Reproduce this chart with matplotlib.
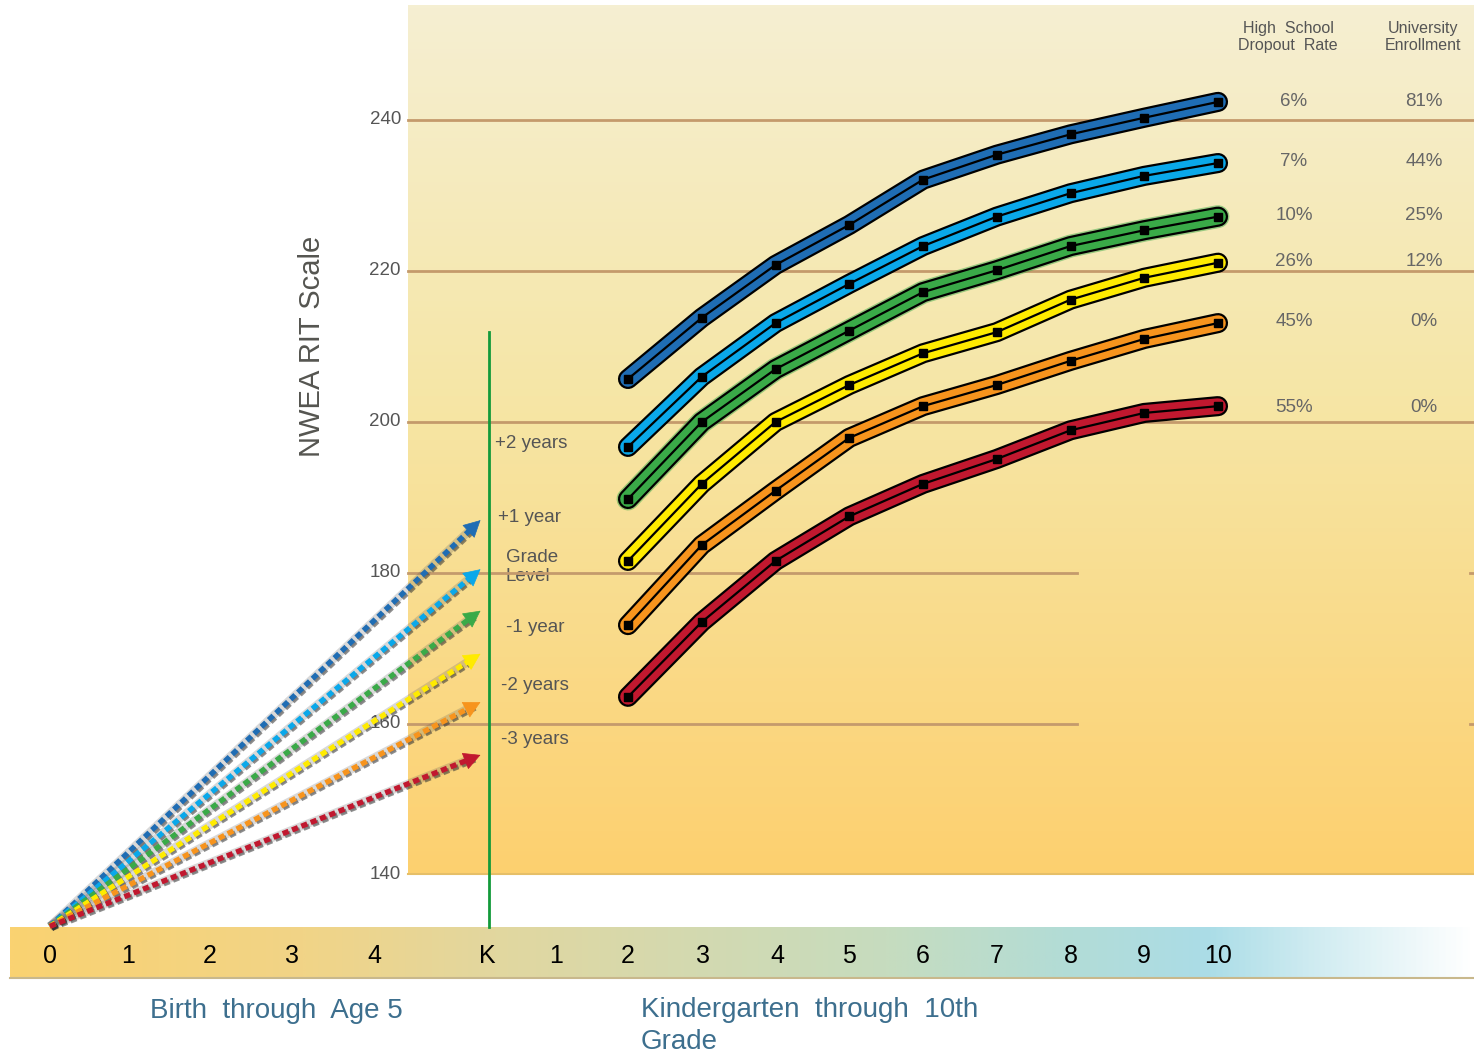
import numpy as np
import matplotlib
matplotlib.use("Agg")
import matplotlib.pyplot as plt
import matplotlib.patheffects as pe
from matplotlib.colors import LinearSegmentedColormap

plt.rcParams['font.family'] = ['Liberation Sans', 'DejaVu Sans']

# ---------------- data ----------------
grades = [2, 3, 4, 5, 6, 7, 8, 9, 10]
series_names = ["+2 years", "+1 year", "Grade Level", "-1 year", "-2 years", "-3 years"]
dark_blue = [205.7, 213.8, 220.8, 226.1, 232.1, 235.4, 238.1, 240.3, 242.4]
light_blue = [196.7, 206.0, 213.1, 218.3, 223.3, 227.2, 230.3, 232.6, 234.3]
green = [189.8, 200.0, 207.0, 212.1, 217.2, 220.1, 223.3, 225.4, 227.2]
yellow = [181.6, 191.8, 200.0, 204.9, 209.1, 211.9, 216.2, 219.1, 221.1]
orange = [173.1, 183.7, 190.9, 197.9, 202.1, 204.9, 208.1, 211.0, 213.1]
red = [163.6, 173.5, 181.6, 187.5, 191.8, 195.1, 198.9, 201.2, 202.1]
series_values = [dark_blue, light_blue, green, yellow, orange, red]
series_colors = ["#1f6db4", "#0aa8ea", "#3aaa48", "#ffeb00", "#f7941d", "#c1182f"]

# early-childhood arrows: start (age 0) and end (kindergarten) RIT values
arrow_start_x = -5.84
arrow_start_y = 133.2
arrow_end_x = 0.0
arrow_end_y = [187.0, 180.5, 175.0, 169.3, 162.9, 155.9]

dropout_rate = ["6%", "7%", "10%", "26%", "45%", "55%"]
university_enrollment = ["81%", "44%", "25%", "12%", "0%", "0%"]

yticks = [140, 160, 180, 200, 220, 240]
year_labels = ["+2 years", "+1 year", "Grade\nLevel", "-1 year", "-2 years", "-3 years"]
bottom_labels = ["0", "1", "2", "3", "4", "K", "1", "2", "3", "4", "5", "6", "7", "8", "9", "10"]

# ---------------- figure ----------------
W, H = 1474, 1055
fig = plt.figure(figsize=(W / 100, H / 100), dpi=100)

# decoration axes in pixel coordinates
deco = fig.add_axes([0, 0, 1, 1])
deco.set_xlim(0, W)
deco.set_ylim(H, 0)
deco.axis("off")

# background gradient panel
bg_cmap = LinearSegmentedColormap.from_list(
    "bg", [(0.0, "#f5efd2"), (0.45, "#f6e6a6"), (1.0, "#fdd06f")])
grad = np.linspace(0, 1, 256).reshape(-1, 1)
deco.imshow(grad, cmap=bg_cmap, aspect="auto", extent=[408, W, 875, 5], zorder=0)
deco.plot([408, W], [874, 874], color="#e6bf68", lw=1.5, zorder=1)

# bottom bar gradient
bar_cmap = LinearSegmentedColormap.from_list(
    "bar", [(0.0, "#fad271"), (0.2, "#f1d487"), (0.33, "#e2d79f"),
            (0.45, "#d5d9ae"), (0.6, "#c6dcbf"), (0.72, "#b3dcd6"),
            (0.82, "#abdde7"), (0.9, "#d3edf2"), (1.0, "#ffffff")])
hgrad = np.linspace(0, 1, 512).reshape(1, -1)
deco.imshow(hgrad, cmap=bar_cmap, aspect="auto", extent=[10, W, 977, 927], zorder=0)
deco.plot([10, W], [977.5, 977.5], color="#c8b88c", lw=1.5, zorder=1)

# data axes
ax = fig.add_axes([0, 0, 1, 1])
ax.patch.set_alpha(0)
x_left = 2 - 628 / 73.75
x_right = 2 + (W - 628) / 73.75
y_top = 240 + 120 / 7.55
y_bottom = 140 - 180 / 7.55
ax.set_xlim(x_left, x_right)
ax.set_ylim(y_bottom, y_top)
ax.axis("off")

grid_c = "#c49a6c"
for v in [200, 220, 240]:
    ax.axhline(v, xmin=408 / W, xmax=1.0, color=grid_c, lw=2, zorder=1)
for v in [160, 180]:
    ax.axhline(v, xmin=408 / W, xmax=1077 / W, color=grid_c, lw=2, zorder=1)
    ax.axhline(v, xmin=1470 / W, xmax=1.0, color=grid_c, lw=2, zorder=1)

# y tick labels
for v in yticks:
    ax.text(x_left + 401 / 73.75, v, str(v), ha="right", va="center",
            fontsize=13.5, color="#555555", zorder=3)

ax.text(x_left + 312 / 73.75, 140 + (875 - 346) / 7.55, "NWEA RIT Scale",
        rotation=90, ha="center", va="center", fontsize=21, color="#555550")

# green grade-level vertical line
ax.plot([x_left + 489 / 73.75] * 2, [140 + (875 - 927) / 7.55, 140 + (875 - 332) / 7.55],
        color="#139a3a", lw=2, zorder=2)

# dashed arrows (birth to kindergarten)
for yend, c in zip(arrow_end_y, series_colors):
    back = 0.1
    xs = [arrow_start_x, arrow_end_x - back]
    slope = (yend - arrow_start_y) / (arrow_end_x - arrow_start_x)
    ys = [arrow_start_y, arrow_start_y + slope * (xs[1] - arrow_start_x)]
    ax.plot(xs, ys, color="#555555", lw=6, alpha=0.22, zorder=3,
            solid_capstyle="butt")
    ax.plot(xs, ys, color=c, lw=3.8, zorder=4, linestyle=(0, (1.2, 0.7)),
            dash_capstyle="butt",
            path_effects=[pe.SimpleLineShadow(offset=(1.5, -1.5), shadow_color="#333333", alpha=0.55),
                          pe.Normal()])
    ax.annotate("", xy=(arrow_end_x, yend), xytext=(xs[1] - 0.03, ys[1] - slope * 0.03),
                arrowprops=dict(arrowstyle="-|>,head_length=0.8,head_width=0.42",
                                color=c, lw=0.5, shrinkA=0, shrinkB=0,
                                mutation_scale=14),
                zorder=5)

# main tube lines
for vals, c in zip(series_values, series_colors):
    if c == "#3aaa48":
        ax.plot(grades, vals, color=c, lw=16.5, alpha=0.5, solid_capstyle="round",
                solid_joinstyle="round", zorder=5)
    ax.plot(grades, vals, color="black", lw=14.5, solid_capstyle="round",
            solid_joinstyle="round", zorder=6)
    ax.plot(grades, vals, color=c, lw=11.3, solid_capstyle="round",
            solid_joinstyle="round", zorder=7)
    ax.plot(grades, vals, color="black", lw=1.6, marker="s", markersize=6,
            markerfacecolor="black", markeredgecolor="black", zorder=8)

# year labels
year_px = [(495, 443), (498, 517), (506, 567), (506, 627), (501, 686), (501, 740)]
for lab, (px, pyy) in zip(year_labels, year_px):
    deco.text(px, pyy, lab, ha="left", va="center", fontsize=13.5, color="#555555",
              linespacing=1.1, zorder=5)

# right columns
deco.text(1288, 37, "High  School\nDropout  Rate", ha="center", va="center",
          fontsize=11.5, color="#555555", linespacing=1.1)
deco.text(1423, 37, "University\nEnrollment", ha="center", va="center",
          fontsize=11.5, color="#555555", linespacing=1.1)
row_y = [101, 161, 215, 261, 322, 407]
for d, u, ry in zip(dropout_rate, university_enrollment, row_y):
    deco.text(1294, ry, d, ha="center", va="center", fontsize=13.5, color="#666666")
    deco.text(1424, ry, u, ha="center", va="center", fontsize=13.5, color="#666666")

# bottom bar labels
bottom_px = [50, 128, 210, 292, 374, 487, 556, 628, 703, 777, 849, 923, 997, 1071, 1144, 1218]
for lab, bx in zip(bottom_labels, bottom_px):
    deco.text(bx, 956, lab, ha="center", va="center", fontsize=18, color="black", zorder=5)

deco.text(150, 1011, "Birth  through  Age 5", ha="left", va="center",
          fontsize=20, color="#3d6f8e")
deco.text(641, 1026, "Kindergarten  through  10th\nGrade", ha="left", va="center",
          fontsize=20, color="#3d6f8e", linespacing=1.3)

fig.savefig("out.png", dpi=100)
